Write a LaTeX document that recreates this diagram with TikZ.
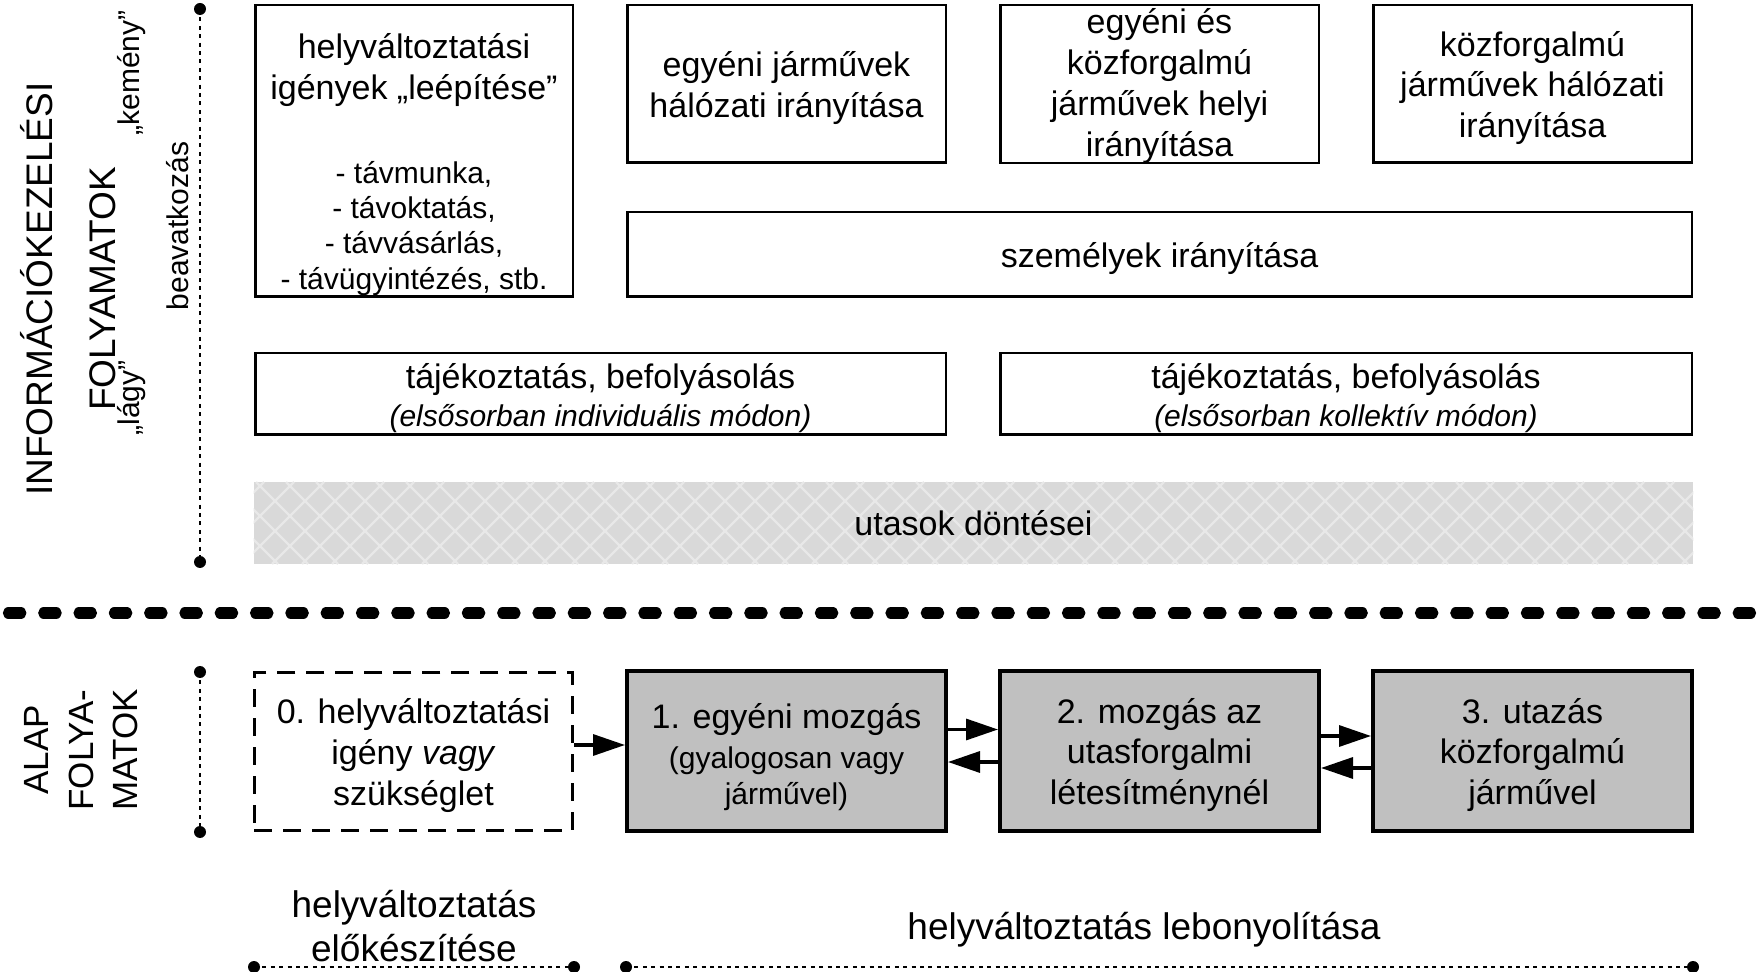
\documentclass[tikz,border=0pt]{standalone}
\usepackage{fontspec}
\setmainfont{Liberation Sans}
\usetikzlibrary{arrows.meta,backgrounds}
\definecolor{boxgray}{HTML}{C0C0C0}
\definecolor{patbg}{HTML}{D9D9D9}
\definecolor{patln}{HTML}{E8E8E8}
\newcommand{\fsA}{\fontsize{17pt}{20.4pt}\selectfont}
\newcommand{\fsB}{\fontsize{15pt}{17.7pt}\selectfont}
\newcommand{\fsC}{\fontsize{18.5pt}{22pt}\selectfont}
\newcommand{\fsSide}{\fontsize{18.5pt}{22pt}\selectfont}
\newcommand{\fsAlap}{\fontsize{17.5pt}{22.25pt}\selectfont}
\newcommand{\topstrut}[1][16.5pt]{\rule{0pt}{#1}}
\begin{document}
\begin{tikzpicture}[x=0.5pt,y=-0.5pt,
  wbox/.style={draw,line width=1.25pt,fill=white,align=center,font=\fsA,inner sep=0pt},
  gbox/.style={draw,line width=2pt,fill=boxgray,align=center,font=\fsA,inner sep=0pt,minimum width=159.5pt,minimum height=80pt},
  dbox/.style={draw,line width=1.35pt,dash pattern=on 9pt off 5.5pt,align=center,font=\fsA,inner sep=0pt,minimum width=159.15pt,minimum height=79.15pt},
  flow/.style={line width=1.65pt,-{Triangle[length=16pt,width=10.5pt]}},
  dotline/.style={line width=1.3pt,dash pattern=on 2pt off 2.2pt},
  sepline/.style={line width=5.65pt,line cap=round,dash pattern=on 6.15pt off 11.5pt},
  sidelabel/.style={rotate=90,anchor=base,inner sep=0pt},
  patline/.style={draw=patln,line width=1.1pt},
]
\useasboundingbox (0,0) rectangle (1762,972);

% --- upper boxes ---
\node[wbox,minimum width=158.75pt,minimum height=145.75pt] (igeny) at (414,151)
  {\rule{0pt}{26pt}helyváltoztatási\\igények „leépítése”\\[21.6pt]\fsB - távmunka,\\[-2.7pt]\fsB - távoktatás,\\[-2.7pt]\fsB - távvásárlás,\\[-2.7pt]\fsB - távügyintézés, stb.};
\node[wbox,minimum width=159.25pt,minimum height=78.75pt] (egyhal) at (786.5,84)
  {\topstrut egyéni járművek\\hálózati irányítása};
\node[wbox,minimum width=159.25pt,minimum height=78.75pt] (helyi) at (1159.5,84)
  {\topstrut[14.5pt]egyéni és\\közforgalmú\\járművek helyi\\irányítása};
\node[wbox,minimum width=159.25pt,minimum height=78.75pt] (kozhal) at (1532.5,84)
  {\topstrut közforgalmú\\járművek hálózati\\irányítása};
\node[wbox,minimum width=532.25pt,minimum height=42.25pt] (szem) at (1159.5,254.5)
  {\topstrut személyek irányítása};
\node[wbox,minimum width=345.25pt,minimum height=40.75pt] (tajind) at (600.5,394)
  {\topstrut tájékoztatás, befolyásolás\\[-1.4pt]\fsB\itshape (elsősorban individuális módon)};
\node[wbox,minimum width=345.75pt,minimum height=40.75pt] (tajkol) at (1346,394)
  {\topstrut tájékoztatás, befolyásolás\\[-1.4pt]\fsB\itshape (elsősorban kollektív módon)};
\node[font=\fsA,minimum width=719.5pt,minimum height=41pt,inner sep=0pt] (ut) at (973.5,523)
  {utasok döntései};
\begin{scope}[on background layer]
  \fill[patbg] (ut.south west) rectangle (ut.north east);
  \clip (ut.south west) rectangle (ut.north east);
  \foreach \k in {-3,...,48} \draw[patline] ({256+30*\k},482) -- ({338+30*\k},564);
  \foreach \m in {0,...,51} \draw[patline] ({264+30*\m},482) -- ({182+30*\m},564);
\end{scope}

% --- side labels upper ---
\node[sidelabel,font=\fsSide] (info1) at (53,289) {INFORMÁCIÓKEZELÉSI};
\node[sidelabel,font=\fsSide] (info2) at (115,289) {FOLYAMATOK};
\node[sidelabel,font=\fsB] (hard) at (139,73) {„kemény”};
\node[sidelabel,font=\fsB] (soft) at (139,398) {„lágy”};
\node[sidelabel,font=\fsB] (interv) at (188,226) {beavatkozás};
\coordinate (ia) at (200,9);
\coordinate (ib) at (200,562);
\draw[dotline] (ia) -- (ib);
\fill (ia) circle[radius=3pt];
\fill (ib) circle[radius=3pt];

% --- separator ---
\coordinate (sepL) at (8.5,613);
\coordinate (sepR) at (1775,613);
\draw[sepline] (sepL) -- (sepR);

% --- lower part ---
\node[rotate=90,align=center,font=\fsAlap,inner sep=0pt] (alap) at (81.5,750) {ALAP\\FOLYA-\\MATOK};
\coordinate (ja) at (200,672);
\coordinate (jb) at (200,832);
\draw[dotline] (ja) -- (jb);
\fill (ja) circle[radius=3pt];
\fill (jb) circle[radius=3pt];

\node[dbox] (b0) at (413.5,751.5) {\topstrut 0. helyváltoztatási\\igény \textit{vagy}\\szükséglet};
\node[gbox] (b1) at (786.5,751) {\topstrut[18.5pt]1. egyéni mozgás\\[-0.4pt]\fsB (gyalogosan vagy\\[-2.4pt]\fsB járművel)};
\node[gbox] (b2) at (1159.5,751) {\topstrut 2. mozgás az\\utasforgalmi\\létesítménynél};
\node[gbox] (b3) at (1532.5,751) {\topstrut 3. utazás\\közforgalmú\\járművel};

\draw[flow] ([yshift=3.25pt]b0.east) -- ([yshift=3.25pt]b0.east -| b1.west);
\draw[flow] ([yshift=10.75pt]b1.east) -- ([yshift=10.75pt]b1.east -| b2.west);
\draw[flow] ([yshift=-5.5pt]b2.west) -- ([yshift=-5.5pt]b2.west -| b1.east);
\draw[flow] ([yshift=7.5pt]b2.east) -- ([yshift=7.5pt]b2.east -| b3.west);
\draw[flow] ([yshift=-8.5pt]b3.west) -- ([yshift=-8.5pt]b3.west -| b2.east);

% --- bottom phase labels ---
\node[font=\fsC,align=center,inner sep=0pt] (prep) at (414,926) {helyváltoztatás\\előkészítése};
\node[font=\fsC,anchor=base,inner sep=0pt] (exec) at (1144,939) {helyváltoztatás lebonyolítása};
\coordinate (pa) at (254,967);
\coordinate (pb) at (574,967);
\coordinate (qa) at (626,967);
\coordinate (qb) at (1693,967);
\draw[dotline] (pa) -- (pb);
\draw[dotline] (qa) -- (qb);
\foreach \p in {pa,pb,qa,qb} \fill (\p) circle[radius=3pt];
\end{tikzpicture}
\end{document}
